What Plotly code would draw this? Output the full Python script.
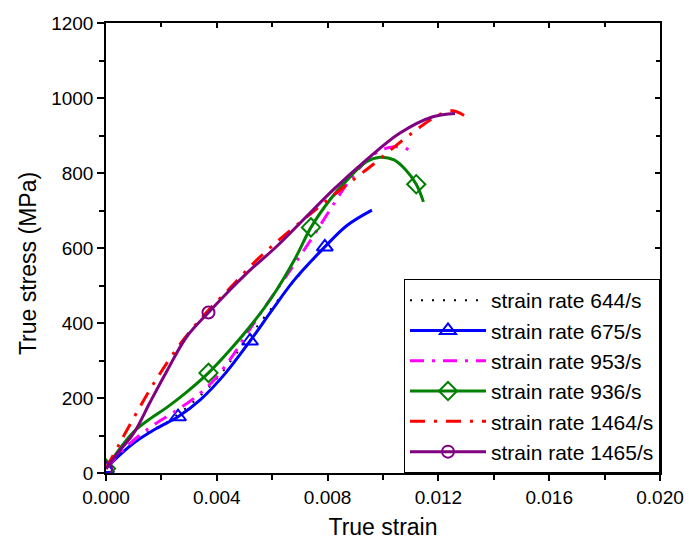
import plotly.graph_objects as go

# ---------------- data ----------------
names = ["strain rate 644/s", "strain rate 675/s", "strain rate 953/s",
         "strain rate 936/s", "strain rate 1464/s", "strain rate 1465/s"]

strain_644 = [0.0, 0.0005, 0.0010, 0.0016, 0.0022, 0.0030, 0.0039, 0.0047, 0.0055, 0.0064, 0.0073, 0.0078]
stress_644 = [12, 52, 88, 112, 135, 180, 243, 318, 395, 478, 555, 595]

strain_675 = [0.0, 0.0005, 0.0010, 0.0018, 0.0026, 0.0034, 0.0043, 0.0052, 0.0060, 0.0068, 0.0079, 0.0087, 0.0096]
stress_675 = [12, 48, 80, 118, 150, 195, 265, 352, 435, 515, 603, 660, 701]
mark_strain_675 = [0.0, 0.0026, 0.0052, 0.0079]
mark_stress_675 = [12, 150, 352, 603]

strain_953 = [0.0, 0.0006, 0.0012, 0.0018, 0.0024, 0.0031, 0.0038, 0.0045, 0.0051, 0.0058, 0.0065,
              0.0072, 0.0079, 0.0086, 0.0093, 0.0099, 0.0104, 0.0108, 0.0111]
stress_953 = [12, 60, 100, 132, 160, 195, 240, 305, 373, 450, 524, 600, 680, 760, 825, 860, 870, 866, 855]

strain_936 = [0.0, 0.0005, 0.0010, 0.0016, 0.0022, 0.0029, 0.0037, 0.0045, 0.0053, 0.0060, 0.0068,
              0.0074, 0.0081, 0.0087, 0.0094, 0.0099, 0.0104, 0.0108, 0.0112, 0.01146]
stress_936 = [12, 65, 110, 145, 175, 215, 267, 330, 400, 470, 568, 655, 730, 781, 830, 842, 835, 810, 770, 723]
mark_strain_936 = [0.0, 0.0037, 0.0074, 0.0112]
mark_stress_936 = [12, 267, 655, 770]

strain_1464 = [0.0, 0.0005, 0.0011, 0.0018, 0.0027, 0.0036, 0.0045, 0.0054, 0.0063, 0.0072, 0.0080,
               0.0088, 0.0097, 0.0105, 0.0112, 0.0119, 0.0125, 0.0130]
stress_1464 = [12, 80, 160, 248, 346, 426, 495, 565, 625, 680, 728, 775, 826, 875, 915, 950, 966, 950]

strain_1465 = [0.0, 0.0005, 0.0010, 0.0016, 0.0022, 0.0029, 0.0037, 0.0045, 0.0052, 0.0061, 0.0070,
               0.0082, 0.0094, 0.0106, 0.0118, 0.0126]
stress_1465 = [12, 60, 106, 190, 272, 362, 428, 490, 541, 600, 666, 755, 835, 906, 950, 959]
mark_strain_1465 = [0.0, 0.0037]
mark_stress_1465 = [12, 428]

x_ticks = [0.000, 0.004, 0.008, 0.012, 0.016, 0.020]
y_ticks = [0, 200, 400, 600, 800, 1000, 1200]
x_title = "True strain"
y_title = "True stress (MPa)"

FONT = "Arial, 'Liberation Sans', sans-serif"

fig = go.Figure()

styles = [
    dict(color="black", width=2, dash="2px,9px"),
    dict(color="#0000FF", width=3, dash="solid"),
    dict(color="#FF00FF", width=3, dash="14px,8px,3px,8px"),
    dict(color="#008000", width=3, dash="solid"),
    dict(color="#FF0000", width=3, dash="15px,9px,3px,9px"),
    dict(color="#800080", width=3, dash="solid"),
]
markers = [None,
           dict(symbol="triangle-up-open", size=14, color="#0000FF", line=dict(width=2)),
           None,
           dict(symbol="diamond-open", size=14, color="#008000", line=dict(width=2)),
           None,
           dict(symbol="circle-open", size=12, color="#800080", line=dict(width=2))]

curves = [(strain_644, stress_644), (strain_675, stress_675), (strain_953, stress_953),
          (strain_936, stress_936), (strain_1464, stress_1464), (strain_1465, stress_1465)]
marks = {1: (mark_strain_675, mark_stress_675), 3: (mark_strain_936, mark_stress_936),
         5: (mark_strain_1465, mark_stress_1465)}

for i, (xs, ys) in enumerate(curves):
    fig.add_trace(go.Scatter(x=xs, y=ys, mode="lines", line=dict(**styles[i], shape="spline", smoothing=1.0),
                             showlegend=False, hoverinfo="skip"))
    if i in marks:
        mx, my = marks[i]
        fig.add_trace(go.Scatter(x=mx, y=my, mode="markers", marker=markers[i],
                                 showlegend=False, hoverinfo="skip"))

# legend entries
for i, nm in enumerate(names):
    if markers[i] is not None:
        fig.add_trace(go.Scatter(x=[None], y=[None], mode="lines+markers", name=nm,
                                 line=dict(**styles[i]), marker=markers[i]))
    else:
        fig.add_trace(go.Scatter(x=[None], y=[None], mode="lines", name=nm, line=dict(**styles[i])))

# dummy for mirrored inside-tick axes
fig.add_trace(go.Scatter(x=[None], y=[None], xaxis="x2", yaxis="y2", showlegend=False, hoverinfo="skip"))

axis_common = dict(showgrid=False, zeroline=False, linecolor="black", linewidth=1.5,
                   tickcolor="black", tickwidth=1.5, automargin=False)

fig.update_layout(
    width=689, height=546,
    margin=dict(l=106, r=29, t=23, b=73),
    paper_bgcolor="white", plot_bgcolor="white",
    font=dict(family=FONT, color="black", size=19),
    xaxis=dict(range=[0, 0.020], tickvals=x_ticks, tickformat=".3f", ticks="outside", ticklen=6,
               minor=dict(dtick=0.002, ticks="outside", ticklen=5, tickcolor="black", tickwidth=1.5),
               title=dict(text=x_title, font=dict(size=23), standoff=12),
               tickfont=dict(size=19), **axis_common),
    yaxis=dict(range=[0, 1200], tickvals=y_ticks, ticks="outside", ticklen=7,
               minor=dict(dtick=100, ticks="outside", ticklen=5, tickcolor="black", tickwidth=1.5),
               tickfont=dict(size=19), **axis_common),
    xaxis2=dict(range=[0, 0.020], overlaying="x", side="top", tickvals=x_ticks, ticks="inside", ticklen=5,
                showticklabels=False,
                minor=dict(dtick=0.002, ticks="inside", ticklen=4, tickcolor="black", tickwidth=1.5),
                **axis_common),
    yaxis2=dict(range=[0, 1200], overlaying="y", side="right", tickvals=y_ticks, ticks="inside", ticklen=5,
                showticklabels=False,
                minor=dict(dtick=100, ticks="inside", ticklen=4, tickcolor="black", tickwidth=1.5),
                **axis_common),
    legend=dict(x=1, y=0, xanchor="right", yanchor="bottom", bgcolor="white",
                bordercolor="black", borderwidth=1, font=dict(size=21, family=FONT),
                itemwidth=76, tracegroupgap=0),
    annotations=[dict(text=y_title, textangle=-90, xref="paper", yref="paper",
                      x=-0.142, y=0.465, xanchor="center", yanchor="middle", showarrow=False,
                      font=dict(size=23, family=FONT, color="black"))],
)

fig.write_html("out.html")
